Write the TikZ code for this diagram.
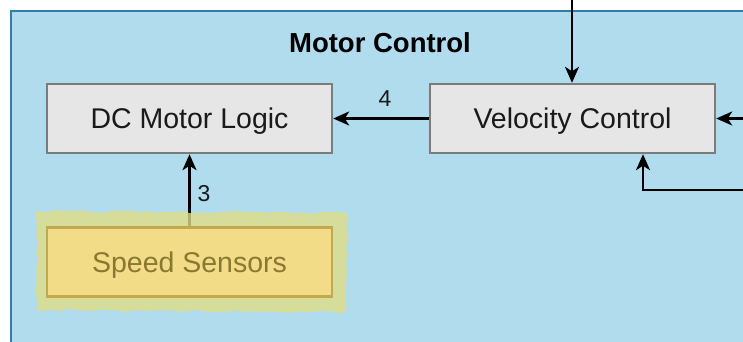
\documentclass[tikz,border=0pt]{standalone}
\usepackage{fontspec}
\setmainfont{Liberation Sans}
\usetikzlibrary{arrows.meta,decorations.pathmorphing}

\definecolor{panelfill}{HTML}{B0DCEE}
\definecolor{panelline}{HTML}{2F7FA8}
\definecolor{boxfill}{HTML}{E6E6E6}
\definecolor{boxline}{HTML}{7C7C7C}
\definecolor{textdark}{HTML}{1A1A1A}
\definecolor{sensfill}{HTML}{F2DC88}
\definecolor{sensline}{HTML}{C4A84E}
\definecolor{senstext}{HTML}{8A7830}
\definecolor{marker}{HTML}{E0DC84}

\pgfdeclarelayer{markerlayer}
\pgfdeclarelayer{front}
\pgfsetlayers{main,markerlayer,front}

\tikzset{
  block/.style={draw=boxline, fill=boxfill, line width=2.4pt,
    minimum width=285pt, minimum height=69pt, inner sep=0pt,
    text height=20.5pt, text depth=0pt,
    text=textdark, font=\fontsize{28.5}{32}\selectfont},
  sensor/.style={block, draw=sensline, fill=sensfill, text=senstext},
  flow/.style={-{Stealth[length=16pt,width=14pt,inset=4.5pt]}, line width=2.4pt},
  flowlabel/.style={font=\fontsize{23}{26}\selectfont, text=textdark, inner sep=0pt},
}

\begin{document}
\begin{tikzpicture}[x=1pt,y=-1pt]
  \useasboundingbox (0,0) rectangle (743,341);
  \begin{scope}
    \clip (0,0) rectangle (743,341);
    % panel
    \draw[fill=panelfill, draw=panelline, line width=2.2pt] (11,11) rectangle (760,360);

    \node[font=\bfseries\fontsize{27.5}{30}\selectfont] (title) at (380,43) {Motor Control};

    \node[block] (dc)  at (189.5,118.5) {DC Motor Logic};
    \node[block] (vel) at (572.5,118.5) {Velocity Control};
    \begin{pgfonlayer}{front}
      \node[sensor] (spd) at (189.5,262) {Speed Sensors};
    \end{pgfonlayer}

    \coordinate (intop) at (572,-2);
    \coordinate (inright) at (750,118.5);
    \coordinate (feedin) at (750,190);
    \coordinate (feedturn) at (643,190);

    \draw[flow] (vel) -- (dc);
    \node[flowlabel] (l4) at (385,99) {4};
    \draw[flow] (intop) -- (intop |- vel.north);
    \draw[flow] (inright) -- (vel.east);
    \draw[flow] (feedin) -- (feedturn) -- (feedturn |- vel.south);
    \draw[flow] (spd.north) -- (dc.south);
    \node[flowlabel] (l3) at (204,194) {3};

    % highlighter mark around the sensor block
    \begin{pgfonlayer}{markerlayer}
      \fill[marker, opacity=0.8, decorate,
        decoration={random steps, segment length=7pt, amplitude=1.2pt}]
        (36,211) -- (347,213) -- (346,312) -- (37,310) -- cycle;
    \end{pgfonlayer}
  \end{scope}
\end{tikzpicture}
\end{document}
